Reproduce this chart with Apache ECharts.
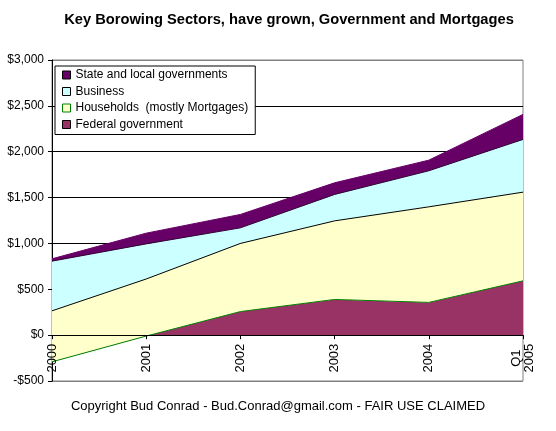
<!DOCTYPE html>
<html>
<head>
<meta charset="utf-8">
<script src="https://cdn.jsdelivr.net/npm/echarts@6/dist/echarts.min.js"></script>
<style>
html,body{margin:0;padding:0;background:#fff;}
#chart{width:556px;height:431px;}
</style>
</head>
<body>
<div id="chart"></div>
<script>
// Categories (x axis)
var categories = ['2000', '2001', '2002', '2003', '2004', 'Q1\n2005'];
// Series values (each sector's own amount, stacked in the chart), $ billions
var federalGovernment = [-291, -10, 257, 389, 357, 592];
var households = [556, 622, 743, 857, 1042, 967];
var business = [542, 383, 170, 288, 393, 575];
var stateLocal = [25, 117, 146, 127, 116, 273];
// Series names
var seriesNames = ['Federal government', 'Households  (mostly Mortgages)', 'Business', 'State and local governments'];
// Y tick range
var yMin = -500, yMax = 3000, yStep = 500;

var FONT = '"Liberation Sans", Arial, sans-serif';
var colors = {
  fed: '#993366',
  hh: '#FFFFCC',
  bus: '#CCFFFF',
  state: '#660066'
};

var GRID_TOP = 60, GRID_BOTTOM = 50, H = 431;
var plotH = H - GRID_TOP - GRID_BOTTOM;
// pixel distance from the bottom of the plot (yMin) up to value 0
var zeroOffset = plotH * (0 - yMin) / (yMax - yMin);

function money(v) {
  var s = Math.abs(v).toLocaleString('en-US');
  return (v < 0 ? '-$' : '$') + s;
}

var chart = echarts.init(document.getElementById('chart'), null, {renderer: 'canvas'});

function areaSeries(name, data, fill, lineColor, lineWidth) {
  return {
    name: name,
    type: 'line',
    stack: 'total',
    stackStrategy: 'all',
    data: data,
    symbol: 'none',
    smooth: false,
    itemStyle: {color: fill},
    lineStyle: {color: lineColor, width: lineWidth},
    areaStyle: {color: fill, opacity: 1},
    emphasis: {disabled: true},
    silent: true
  };
}

var option = {
  animation: false,
  backgroundColor: '#ffffff',
  textStyle: {fontFamily: FONT},
  title: [{
    text: 'Key Borowing Sectors, have grown, Government and Mortgages',
    left: 289,
    textAlign: 'center',
    top: 12,
    padding: 0,
    textStyle: {fontFamily: FONT, fontSize: 14.7, fontWeight: 'bold', color: '#000'}
  }, {
    text: 'Copyright Bud Conrad - Bud.Conrad@gmail.com - FAIR USE CLAIMED',
    left: 'center',
    top: 400,
    padding: 0,
    textStyle: {fontFamily: FONT, fontSize: 13, fontWeight: 'normal', color: '#000'}
  }],
  legend: {
    orient: 'vertical',
    left: 55,
    top: 66,
    padding: [3, 7, 4, 7],
    itemGap: 4.5,
    itemWidth: 8,
    itemHeight: 8,
    backgroundColor: '#ffffff',
    borderColor: '#000000',
    borderWidth: 1,
    borderRadius: 0,
    selectedMode: false,
    textStyle: {fontFamily: FONT, fontSize: 12, color: '#000', lineHeight: 12},
    data: [
      {name: seriesNames[3], icon: 'rect', itemStyle: {color: colors.state, borderColor: '#000', borderWidth: 1}},
      {name: seriesNames[2], icon: 'rect', itemStyle: {color: colors.bus, borderColor: '#000', borderWidth: 1}},
      {name: seriesNames[1], icon: 'rect', itemStyle: {color: colors.hh, borderColor: '#008000', borderWidth: 1}},
      {name: seriesNames[0], icon: 'rect', itemStyle: {color: colors.fed, borderColor: '#000', borderWidth: 1}}
    ]
  },
  grid: {
    left: 52,
    right: 33,
    top: GRID_TOP,
    bottom: GRID_BOTTOM,
    show: true,
    borderColor: '#808080',
    borderWidth: 1,
    backgroundColor: 'transparent',
    containLabel: false
  },
  xAxis: {
    type: 'category',
    data: categories,
    boundaryGap: false,
    position: 'bottom',
    offset: -zeroOffset,
    z: 5,
    axisLine: {show: true, onZero: false, lineStyle: {color: '#000', width: 1}},
    axisTick: {show: true, length: 4, lineStyle: {color: '#000'}},
    axisLabel: {
      rotate: 90,
      align: 'center',
      verticalAlign: 'middle',
      margin: 23,
      interval: 0,
      fontFamily: FONT,
      fontSize: 13,
      lineHeight: 13,
      color: '#000'
    },
    splitLine: {show: false}
  },
  yAxis: {
    type: 'value',
    min: yMin,
    max: yMax,
    interval: yStep,
    axisLine: {show: true, lineStyle: {color: '#000', width: 1}},
    axisTick: {show: true, length: 4, lineStyle: {color: '#000'}},
    axisLabel: {
      margin: 8,
      fontFamily: FONT,
      fontSize: 12,
      color: '#000',
      formatter: money
    },
    splitLine: {
      show: true,
      lineStyle: {
        color: ['#808080', '#000', '#000', '#000', '#000', '#000', '#000', '#808080'],
        width: 1
      }
    }
  },
  series: [
    areaSeries(seriesNames[0], federalGovernment, colors.fed, '#008000', 1),
    areaSeries(seriesNames[1], households, colors.hh, '#000000', 1),
    areaSeries(seriesNames[2], business, colors.bus, '#330033', 1),
    areaSeries(seriesNames[3], stateLocal, colors.state, colors.state, 1)
  ]
};

chart.setOption(option);
</script>
</body>
</html>
